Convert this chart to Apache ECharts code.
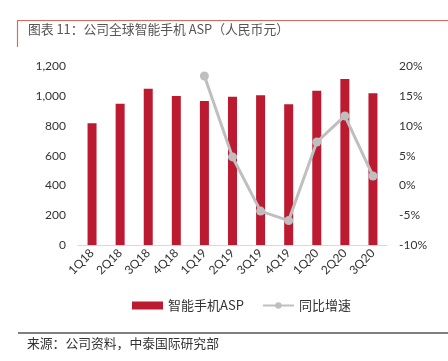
<!DOCTYPE html>
<html><head><meta charset="utf-8">
<script src="https://cdn.jsdelivr.net/npm/echarts@6/dist/echarts.min.js"></script>
<style>html,body{margin:0;padding:0;background:#fff}#c{width:448px;height:361px}</style>
</head><body><div id="c"></div>
<script>
const categories = ['1Q18','2Q18','3Q18','4Q18','1Q19','2Q19','3Q19','4Q19','1Q20','2Q20','3Q20'];
const aspValues = [818, 950, 1051, 1002, 968, 997, 1006, 946, 1037, 1116, 1020];
const yoyValues = [null, null, null, null, 18.4, 4.8, -4.3, -5.9, 7.3, 11.7, 1.6];
const leftTicks = {min: 0, max: 1200, interval: 200};
const rightTicks = {min: -10, max: 20, interval: 5};
const seriesNames = ['智能手机ASP', '同比增速'];
const titleText = '图表 11：公司全球智能手机 ASP（人民币元）';
const sourceText = '来源：公司资料，中泰国际研究部';

const chart = echarts.init(document.getElementById('c'), null, {renderer: 'canvas'});
const font = 'Lato, "Noto Sans CJK SC", sans-serif';
chart.setOption({
  animation: false,
  grid: {left: 78, right: 61, top: 66.5, bottom: 116, containLabel: false},
  graphic: [
    {type: 'line', shape: {x1: 17, y1: 20.5, x2: 448, y2: 20.5}, style: {stroke: '#E06666', lineWidth: 1.2}},
    {type: 'line', shape: {x1: 17.5, y1: 20, x2: 17.5, y2: 47}, style: {stroke: '#E06666', lineWidth: 1.2}},
    {type: 'text', left: 28, top: 23, style: {text: titleText, fill: '#555', font: '12.8px "Noto Sans CJK SC", sans-serif'}},
    {type: 'line', shape: {x1: 18, y1: 333, x2: 448, y2: 333}, style: {stroke: '#000', lineWidth: 1}},
    {type: 'text', left: 27, top: 337, style: {text: sourceText, fill: '#333', font: '12.8px "Noto Sans CJK SC", sans-serif'}}
  ],
  legend: {
    bottom: 44, left: 127,
    itemGap: 18,
    textStyle: {fontFamily: '"Noto Sans CJK SC", sans-serif', fontSize: 13, color: '#333'},
    data: [
      {name: seriesNames[0], icon: 'rect', itemWidth: 31, itemHeight: 7},
      {name: seriesNames[1]}
    ],
    itemWidth: 31, itemHeight: 8
  },
  xAxis: {
    type: 'category', data: categories,
    axisLine: {lineStyle: {color: '#D9D9D9'}},
    axisTick: {show: false},
    axisLabel: {rotate: 45, color: '#333', fontFamily: font, fontSize: 12, margin: 6, interval: 0}
  },
  yAxis: [
    {type: 'value', min: leftTicks.min, max: leftTicks.max, interval: leftTicks.interval,
     splitLine: {show: false}, axisLine: {show: false}, axisTick: {show: false},
     axisLabel: {color: '#333', fontFamily: font, fontSize: 12, margin: 12,
       formatter: v => v.toLocaleString('en-US')}},
    {type: 'value', min: rightTicks.min, max: rightTicks.max, interval: rightTicks.interval,
     splitLine: {show: false}, axisLine: {show: false}, axisTick: {show: false},
     axisLabel: {color: '#333', fontFamily: font, fontSize: 12, margin: 12, formatter: v => v + '%'}}
  ],
  series: [
    {name: seriesNames[0], type: 'bar', data: aspValues, barWidth: 9,
     itemStyle: {color: '#BC1A30'}},
    {name: seriesNames[1], type: 'line', yAxisIndex: 1, data: yoyValues,
     symbol: 'circle', symbolSize: 9, showAllSymbol: true,
     lineStyle: {color: '#BFBFBF', width: 3}, itemStyle: {color: '#BFBFBF'}}
  ]
});
</script></body></html>
